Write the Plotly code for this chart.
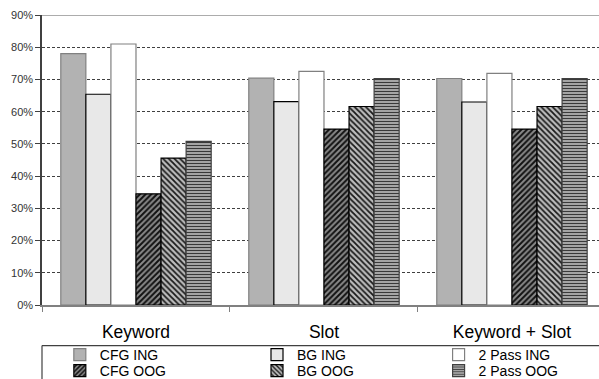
import plotly.graph_objects as go

categories = ["Keyword", "Slot", "Keyword + Slot"]
series_names = ["CFG ING", "BG ING", "2 Pass ING", "CFG OOG", "BG OOG", "2 Pass OOG"]
cfg_ing = [0.780, 0.704, 0.703]
bg_ing = [0.654, 0.631, 0.630]
pass2_ing = [0.810, 0.725, 0.719]
cfg_oog = [0.345, 0.546, 0.546]
bg_oog = [0.456, 0.616, 0.616]
pass2_oog = [0.508, 0.703, 0.703]
y_ticks = [0, 0.1, 0.2, 0.3, 0.4, 0.5, 0.6, 0.7, 0.8, 0.9]

values = [cfg_ing, bg_ing, pass2_ing, cfg_oog, bg_oog, pass2_oog]
styles = [
    dict(color="#b2b2b2", line=dict(color="#808080", width=1.2)),
    dict(color="#e8e8e8", line=dict(color="#000000", width=1.2)),
    dict(color="#ffffff", line=dict(color="#808080", width=1.2)),
    dict(color="#5a5a5a", line=dict(color="#000000", width=1.2),
         pattern=dict(shape="/", fgcolor="#111111", bgcolor="#8a8a8a", size=4, solidity=0.5)),
    dict(color="#8a8a8a", line=dict(color="#000000", width=1.2),
         pattern=dict(shape="\\", fgcolor="#1a1a1a", bgcolor="#bdbdbd", size=4, solidity=0.45)),
    dict(color="#8a8a8a", line=dict(color="#404040", width=1.2),
         pattern=dict(shape="-", fgcolor="#3a3a3a", bgcolor="#c8c8c8", size=3, solidity=0.5)),
]

# one legend per entry so the 3x2 legend grid matches the reference
legend_ids = ["legend", "legend2", "legend3", "legend4", "legend5", "legend6"]
col_x = [0.032, 0.386, 0.712]
row_y = [-0.1724, -0.2276]

fig = go.Figure()
for name, vals, st, lg in zip(series_names, values, styles, legend_ids):
    fig.add_trace(go.Bar(name=name, x=categories, y=vals, marker=st, legend=lg))

FONT = "Liberation Sans, Arial, sans-serif"
legend_layout = {}
for i, lg in enumerate(legend_ids):
    legend_layout[lg] = dict(
        orientation="h", x=col_x[i % 3], xanchor="left",
        y=row_y[i // 3], yanchor="middle",
        font=dict(size=14, family=FONT, color="#000000"),
        itemwidth=30, bgcolor="rgba(0,0,0,0)", borderwidth=0,
    )

fig.update_layout(
    template="none",
    width=599, height=379,
    margin=dict(l=42, r=0, t=15, b=74, autoexpand=False),
    paper_bgcolor="white", plot_bgcolor="white",
    barmode="group", bargap=0.2, bargroupgap=0,
    font=dict(family=FONT, color="#000000"),
    showlegend=True,
    xaxis=dict(
        type="category", range=[-0.5, 2.463], showgrid=False, automargin=False,
        showline=True, linecolor="#808080", linewidth=1.5, mirror=False,
        ticks="outside", tickson="boundaries", ticklen=5, tickcolor="#808080",
        tickfont=dict(size=17.5, family=FONT), ticklabelstandoff=10,
    ),
    yaxis=dict(
        range=[0, 0.9], tickvals=y_ticks, tickformat=".0%", automargin=False,
        showgrid=True, gridcolor="#404040", griddash="3px,2px", gridwidth=1,
        showline=True, linecolor="#404040", linewidth=1.5,
        ticks="outside", ticklen=5, tickcolor="#404040",
        tickfont=dict(size=11, family=FONT, color="#333333"), zeroline=False,
    ),
    shapes=[
        dict(type="line", xref="paper", yref="y", x0=0, x1=1.02, y0=0.9, y1=0.9,
             line=dict(color="#909090", width=1.5)),
        dict(type="line", xref="paper", yref="paper", x0=0, x1=1.05, y0=-0.140, y1=-0.140,
             line=dict(color="#404040", width=1.2)),
        dict(type="line", xref="paper", yref="paper", x0=0, x1=0, y0=-0.140, y1=-0.3,
             line=dict(color="#404040", width=1.2)),
    ],
    **legend_layout,
)

fig.write_html("out.html", post_script="document.body.style.margin='0';",
               config={"displayModeBar": False})
